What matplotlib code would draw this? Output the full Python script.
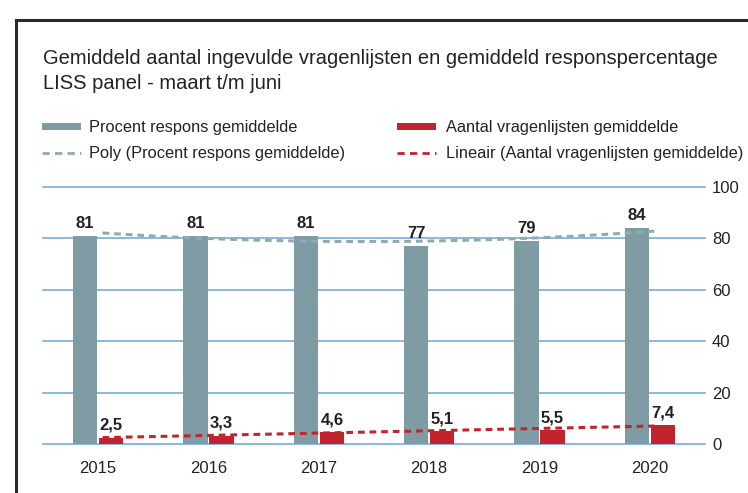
import numpy as np
import matplotlib
matplotlib.use("Agg")
import matplotlib.pyplot as plt
from matplotlib.patches import Rectangle
from matplotlib.lines import Line2D

plt.rcParams['font.family'] = ['Liberation Sans', 'DejaVu Sans']

years = ["2015", "2016", "2017", "2018", "2019", "2020"]
respons = [81, 81, 81, 77, 79, 84]
aantal = [2.5, 3.3, 4.6, 5.1, 5.5, 7.4]
respons_labels = ["81", "81", "81", "77", "79", "84"]
aantal_labels = ["2,5", "3,3", "4,6", "5,1", "5,5", "7,4"]
yticks = [0, 20, 40, 60, 80, 100]

title1 = "Gemiddeld aantal ingevulde vragenlijsten en gemiddeld responspercentage"
title2 = "LISS panel - maart t/m juni"
leg_names = ["Procent respons gemiddelde", "Aantal vragenlijsten gemiddelde",
             "Poly (Procent respons gemiddelde)", "Lineair (Aantal vragenlijsten gemiddelde)"]

GREY = "#7f9ca4"
RED = "#c1242d"
GRID = "#6aa6d0"
POLY = "#8eaab2"
TXT = "#222222"

W, H = 748, 493
fig = plt.figure(figsize=(W / 100, H / 100), dpi=100)

def fx(px):
    return px / W

def fy(py):
    return 1 - py / H

# frame (open to the right and bottom)
fig.add_artist(Line2D([fx(16), fx(16)], [fy(20), fy(600)], transform=fig.transFigure,
                      color="#2a2a2a", lw=2.2, solid_capstyle="projecting"))
fig.add_artist(Line2D([fx(16), fx(800)], [fy(20), fy(20)], transform=fig.transFigure,
                      color="#2a2a2a", lw=2.2, solid_capstyle="projecting"))

ax = fig.add_axes([fx(43), fy(444), fx(705) - fx(43), fy(187) - fy(444)])
x = np.arange(len(years))
bw = 0.218
off = 0.118
ax.bar(x - off, respons, bw, color=GREY, zorder=3)
ax.bar(x + off, aantal, bw, color=RED, zorder=3)

# trendlines (Excel-style: polynomial order 2 and linear fit of the series)
xs = np.linspace(0, 5, 100)
pc = np.polyfit(x, respons, 2)
ax.plot(xs + 0.04, np.polyval(pc, xs), ls=(0, (2.2, 1.6)), color=POLY, lw=2.2, zorder=4)
lc = np.polyfit(x, aantal, 1)
ax.plot(xs + 0.04, np.polyval(lc, xs), ls=(0, (2.2, 1.6)), color=RED, lw=2.2, zorder=4)

for i in range(len(years)):
    ax.text(x[i] - off, respons[i] + 1.8, respons_labels[i], ha="center", va="bottom",
            fontsize=12, fontweight="bold", color=TXT, zorder=5)
    ax.text(x[i] + off, aantal[i] + 1.8, aantal_labels[i], ha="center", va="bottom",
            fontsize=12, fontweight="bold", color=TXT, zorder=5)

ax.set_xlim(-0.5, 5.5)
ax.set_ylim(0, 100)
ax.set_yticks(yticks)
ax.yaxis.tick_right()
ax.tick_params(axis="y", length=0, pad=5, labelsize=12, labelcolor=TXT)
ax.set_xticks(x)
ax.set_xticklabels(years)
ax.tick_params(axis="x", length=0, pad=12, labelsize=12, labelcolor=TXT)
ax.grid(axis="y", color=GRID, lw=1.1, zorder=0)
for gl in ax.get_ygridlines():
    gl.set_clip_on(False)
for s in ax.spines.values():
    s.set_visible(False)
ax.set_facecolor("none")

# title
fig.text(fx(43), fy(63.5), title1, ha="left", va="baseline", fontsize=14.5, color=TXT)
fig.text(fx(43), fy(89), title2, ha="left", va="baseline", fontsize=14.5, color=TXT)

# legend
def leg_patch(px, py, color):
    fig.add_artist(Rectangle((fx(px), fy(py + 3.5)), fx(39), 7 / H, transform=fig.transFigure,
                             color=color, lw=0))

def leg_line(px, py, color):
    fig.add_artist(Line2D([fx(px), fx(px + 39)], [fy(py), fy(py)], transform=fig.transFigure,
                          color=color, lw=2.0, ls=(0, (2.6, 1.9))))

LFS = 11.8
leg_patch(42, 126.5, GREY)
fig.text(fx(89), fy(132), leg_names[0], ha="left", va="baseline", fontsize=LFS, color=TXT)
leg_patch(397, 126.5, RED)
fig.text(fx(446), fy(132), leg_names[1], ha="left", va="baseline", fontsize=LFS, color=TXT)
leg_line(42, 153, POLY)
fig.text(fx(89), fy(158), leg_names[2], ha="left", va="baseline", fontsize=LFS, color=TXT)
leg_line(397, 153, RED)
fig.text(fx(446), fy(158), leg_names[3], ha="left", va="baseline", fontsize=LFS, color=TXT)

fig.savefig("out.png", dpi=100)
